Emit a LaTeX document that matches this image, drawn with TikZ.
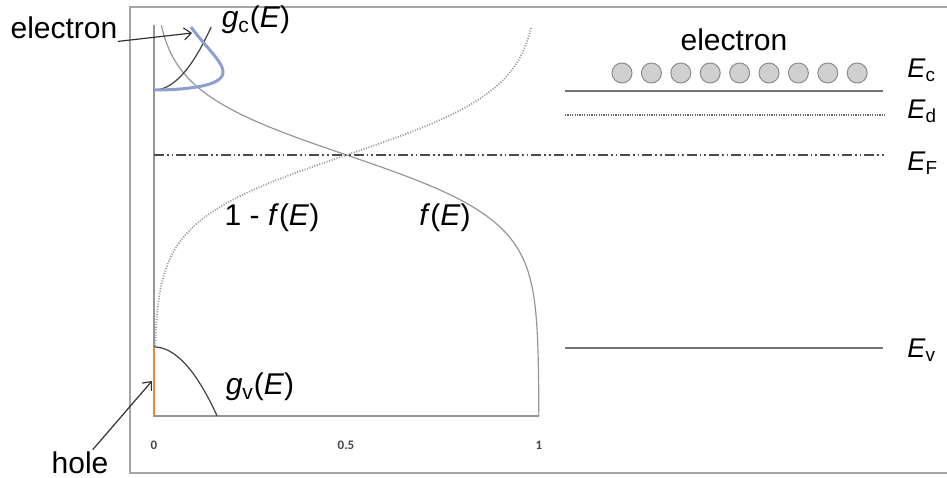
\documentclass[tikz,border=0pt]{standalone}
\usepackage{fontspec}
\setmainfont{Liberation Sans}
\newfontfamily\tickfont{Carlito}
\usetikzlibrary{positioning, arrows.meta}
\definecolor{curvegray}{RGB}{150,150,150}
\definecolor{framegray}{RGB}{165,165,165}
\definecolor{bandblue}{RGB}{140,160,205}
\definecolor{holeorange}{RGB}{228,140,62}
\definecolor{tickgray}{RGB}{70,70,80}
\definecolor{dotfill}{RGB}{208,208,208}

\begin{document}
\begin{tikzpicture}[x=0.5pt, y=-0.5pt, >={Straight Barb[length=3.5pt, width=6pt]}]

        % --- Styles ---
        \tikzset{
            lbl/.style={inner sep=0pt, font=\fontsize{15}{17}\selectfont},
            lvl/.style={inner sep=0pt, anchor=west, font=\fontsize{13.5}{15}\selectfont},
            ticklbl/.style={inner sep=0pt, text=tickgray, font=\tickfont\bfseries\fontsize{6.5}{7}\selectfont},
            axis/.style={curvegray, line width=0.7pt},
            fermi/.style={curvegray, line width=0.6pt},
            holefermi/.style={curvegray, line width=0.9pt, dash pattern=on 0.5pt off 0.8pt},
            dos/.style={black!75, line width=0.6pt},
            level/.style={black!55, line width=0.9pt},
            ptr/.style={->, black!80, line width=0.6pt},
            dot/.style={circle, draw=black!45, fill=dotfill, line width=0.5pt, minimum size=10pt, inner sep=0pt}
        }

        \useasboundingbox (0,0) rectangle (947,477);

        % --- Cadre ---
        \draw[framegray, line width=0.8pt] (950,7) -- (130,7) -- (130,473) -- (950,473);

        % --- Axes ---
        \draw[axis] (154,25) -- (154,416) -- (539,416);
        \node[ticklbl] (t0) at (154,445) {0};
        \node[ticklbl] (t05) at (346,445) {0.5};
        \node[ticklbl] (t1) at (539,445) {1};

        % --- Fermi-Dirac f(E) et 1-f(E) ---
        \draw[fermi] plot[domain=25:416, samples=120, smooth, variable=\y]
            ({154+385/(1+exp((155-\y)/33))}, \y);
        \draw[holefermi] plot[domain=28:347, samples=120, smooth, variable=\y]
            ({154+385/(1+exp((\y-155)/33))}, \y);

        % --- Densités d'états ---
        \draw[dos] plot[domain=0:7.94, samples=40, smooth, variable=\t]
            ({154+7.2*\t}, {90-\t*\t});
        \draw[dos] plot[domain=0:8.3, samples=40, smooth, variable=\t]
            ({154+7.6*\t}, {347+\t*\t});
        \draw[bandblue, line width=1.5pt] plot[domain=0:7.94, samples=60, smooth, variable=\t]
            ({154+26.8*\t*exp(-\t*\t/36)}, {90-\t*\t});
        \draw[holeorange, line width=1.4pt] (154,347) -- (154,416);

        % --- Niveau de Fermi ---
        \draw[black!70, line width=0.6pt, dash pattern=on 5pt off 1.5pt on 0.8pt off 1.5pt on 0.8pt off 1.5pt]
            (154,155) -- (885,155);

        % --- Niveaux d'énergie (à droite) ---
        \draw[level] (565,91) -- (883,91);
        \draw[black!60, line width=0.6pt, dash pattern=on 0.6pt off 0.6pt] (565,115) -- (885,115);
        \draw[level] (565,348) -- (883,348);
        \node[lvl] (Ec) at (907,70) {\textit{E}\textsubscript{c}};
        \node[lvl] (Ed) at (907,111) {\textit{E}\textsubscript{d}};
        \node[lvl] (EF) at (907,163) {\textit{E}\textsubscript{F}};
        \node[lvl] (Ev) at (907,350) {\textit{E}\textsubscript{v}};

        % --- Électrons ---
        \node[lbl] (electronR) at (734,40) {electron};
        \foreach \i in {1,...,9}
            \node[dot] (e\i) at ({622+29.4*(\i-1)},73) {};

        % --- Étiquettes des courbes ---
        \node[lbl] (gcL) at (256,20) {\textit{g}\textsubscript{c}(\textit{E})};
        \node[lbl] (gvL) at (260,387) {\textit{g}\textsubscript{v}(\textit{E})};
        \node[lbl] (omfL) at (272,218) {1 - \textit{f}(\textit{E})};
        \node[lbl] (ffL) at (445,218) {\textit{f}(\textit{E})};

        % --- Électron et trou ---
        \node[lbl] (electronL) at (64,28) {electron};
        \coordinate (ctip) at (192,33);
        \draw[ptr] ([yshift=-1pt]electronL.south east) -- (ctip);

        \node[lbl] (holeL) at (80,463) {hole};
        \coordinate (htip) at (152,381);
        \draw[ptr] ([xshift=-8pt, yshift=1pt]holeL.north east) -- (htip);

    \end{tikzpicture}
\end{document}
